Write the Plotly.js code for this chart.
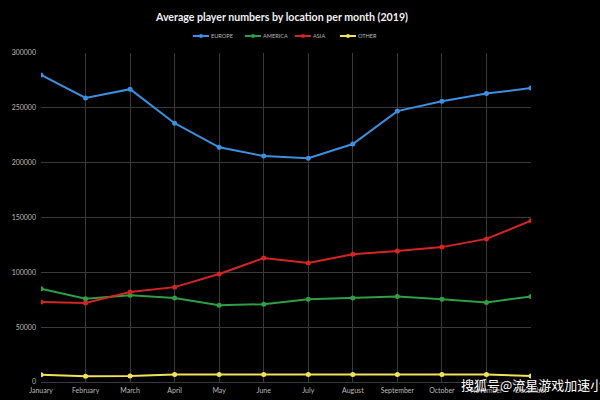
<!DOCTYPE html>
<html><head><meta charset="utf-8">
<script src="https://cdn.plot.ly/plotly-3.0.1.min.js"></script>
<style>body{margin:0;background:#000}</style>
</head><body><div id="c" style="width:600px;height:400px"></div>
<script>
const months = ["January","February","March","April","May","June","July","August","September","October","November","December"];
const europe  = [280000,259000,267000,236000,214000,206000,204000,217000,247000,256000,263000,268000];
const america = [85000,76000,79000,76500,70000,71000,75500,76500,78000,75500,72500,78000];
const asia    = [73000,72000,82000,86500,98500,113000,108500,116500,119500,123000,130500,147000];
const other   = [6600,5300,5500,6800,6800,6800,6800,6800,6800,6800,6800,5500];
const names = ["EUROPE","AMERICA","ASIA","OTHER"];
const colors = ["#3d8fe0","#2f9e44","#d42525","#f2e15a"];
const series = [europe, america, asia, other];

const W=600,H=400,M={l:41,r:69,t:53,b:18};
const pw=W-M.l-M.r, ph=H-M.t-M.b;
const px = x => (x-M.l)/pw;
const py = y => (H-M.b-y)/ph;

const traces = series.map((ys,i)=>({
  x: months, y: ys, name: names[i], type:'scatter', mode:'lines+markers',
  line:{color:colors[i], width:2},
  marker:{color:colors[i], size:5},
  showlegend:false
}));

// manual compact legend
const legX = [193, 245, 295, 340];
const legY = 36;
const shapes = [], annotations = [];
names.forEach((n,i)=>{
  const x0 = legX[i], x1 = legX[i]+16;
  shapes.push({type:'line', xref:'paper', yref:'paper', x0:px(x0), x1:px(x1), y0:py(legY), y1:py(legY), line:{color:colors[i], width:2}});
  const cx=(x0+x1)/2;
  shapes.push({type:'circle', xref:'paper', yref:'paper', x0:px(cx-2), x1:px(cx+2), y0:py(legY+2), y1:py(legY-2), fillcolor:colors[i], line:{width:0}});
  annotations.push({text:n, xref:'paper', yref:'paper', x:px(x1), y:py(legY), xanchor:'left', yanchor:'middle', showarrow:false,
    font:{size:5.6, color:'#bbbbbb'}});
});
annotations.push({text:'搜狐号@流星游戏加速小', xref:'paper', yref:'paper', x:px(459), xanchor:'left', y:py(384), yanchor:'middle', showarrow:false,
    font:{family:'"Noto Sans CJK SC", sans-serif', size:13, color:'#ffffff'}});

const layout = {
  width:W, height:H,
  paper_bgcolor:'#000', plot_bgcolor:'#000',
  margin:M,
  font:{family:'Lato, "Open Sans", sans-serif', color:'#bbbbbb', size:7},
  title:{text:'Average player numbers by location per month (2019)', x:0.47, xanchor:'center', y:1-17/H, yanchor:'middle',
    font:{family:'Lato, "Open Sans", sans-serif', size:10.6, color:'#f2f2f2', weight:'bold'}},
  showlegend:false,
  xaxis:{type:'category', range:[0,11], showgrid:true, gridcolor:'#3a3a3a', gridwidth:1, zeroline:false, showline:false, ticks:'', tickfont:{size:7, color:'#bbbbbb'}, ticklabelstandoff:3},
  yaxis:{range:[0,300000], dtick:50000, tickformat:'d', showgrid:true, gridcolor:'#3a3a3a', gridwidth:1, zeroline:true, zerolinecolor:'#3a3a3a', showline:false, ticks:'', tickfont:{size:7, color:'#bbbbbb'}, ticklabelstandoff:4},
  shapes: shapes,
  annotations: annotations
};
Plotly.newPlot('c', traces, layout, {displayModeBar:false, staticPlot:true});
</script></body></html>
